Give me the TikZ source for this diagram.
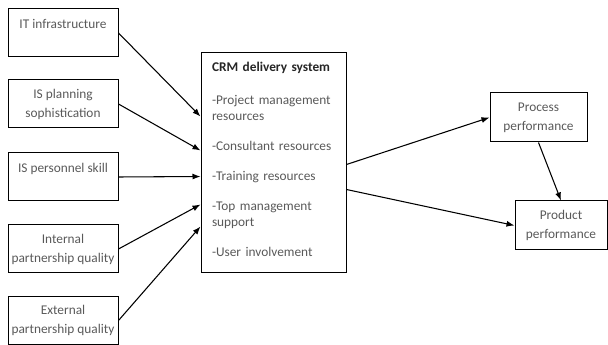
\documentclass[tikz,border=0pt]{standalone}
\usepackage{fontspec}
\setmainfont{Carlito}
\usetikzlibrary{arrows.meta,calc}

\definecolor{txtgray}{RGB}{89,89,89}

\tikzset{every picture/.style={line width=0.75pt}}
\tikzset{
  factor/.style={draw=black, minimum width=82.5pt, minimum height=36pt, inner sep=0pt,
    align=center, text=txtgray, font=\fontsize{10}{14.25}\selectfont},
  outcome/.style={draw=black, minimum height=36.75pt, inner sep=0pt,
    align=center, text=txtgray, font=\fontsize{10}{14.25}\selectfont},
  link/.style={-{Latex[length=6pt,width=4.5pt]}, line width=0.8pt}
}

\begin{document}
\begin{tikzpicture}[x=0.75pt,y=0.75pt,yscale=-1,xscale=1]
\useasboundingbox (0,0) rectangle (608,345);

%Shape: Rectangle [id:it]
\node [factor] (it) at (63,33) {IT infrastructure\\ ~};
%Shape: Rectangle [id:plan]
\node [factor] (plan) at (63,104) {IS planning\\sophistication};
%Shape: Rectangle [id:skill]
\node [factor] (skill) at (63,177) {IS personnel skill\\ ~};
%Shape: Rectangle [id:internal]
\node [factor] (internal) at (63,249) {Internal\\partnership quality};
%Shape: Rectangle [id:external]
\node [factor] (external) at (63,320.5) {External\\partnership quality};

%Shape: Rectangle [id:crm]
\node [draw=black, minimum width=108.75pt, minimum height=165pt, inner xsep=8.25pt, inner ysep=0pt,
  text width=92.25pt, align=left, text=txtgray, font=\fontsize{10}{12}\selectfont]
  (crm) at (273.5,163) {{\bfseries\color{black!85}CRM delivery system}\\[12.75pt]
  -Project management\\resources\\[10.5pt]
  -Consultant resources\\[10.5pt]
  -Training resources\\[10.5pt]
  -Top management\\support\\[10.5pt]
  -User involvement\\[-6pt]~};

%Shape: Rectangle [id:process]
\node [outcome, minimum width=72.75pt] (process) at (538.5,117.5) {Process\\performance};
%Shape: Rectangle [id:product]
\node [outcome, minimum width=69pt] (product) at (561,225.5) {Product\\performance};

% entry points on the CRM box
\coordinate (in1) at ($(crm.north west)+(0,64)$);
\coordinate (in2) at ($(crm.north west)+(0,98)$);
\coordinate (in3) at ($(crm.north west)+(0,124)$);
\coordinate (in4) at ($(crm.north west)+(0,152)$);
\coordinate (in5) at ($(crm.north west)+(0,174)$);
\coordinate (out1) at ($(crm.north east)+(0,112)$);
\coordinate (out2) at ($(crm.north east)+(0,137)$);

%Straight Lines
\draw [link] (it.east) -- (in1);
\draw [link] (plan.east) -- (in2);
\draw [link] (skill.east) -- (in3);
\draw [link] (internal.east) -- (in4);
\draw [link] (external.east) -- (in5);
%Straight Lines
\draw [link] (out1) -- (process.west);
\draw [link] (out2) -- (product.west);
\draw [link] (process.south) -- (product.north);

\end{tikzpicture}
\end{document}
